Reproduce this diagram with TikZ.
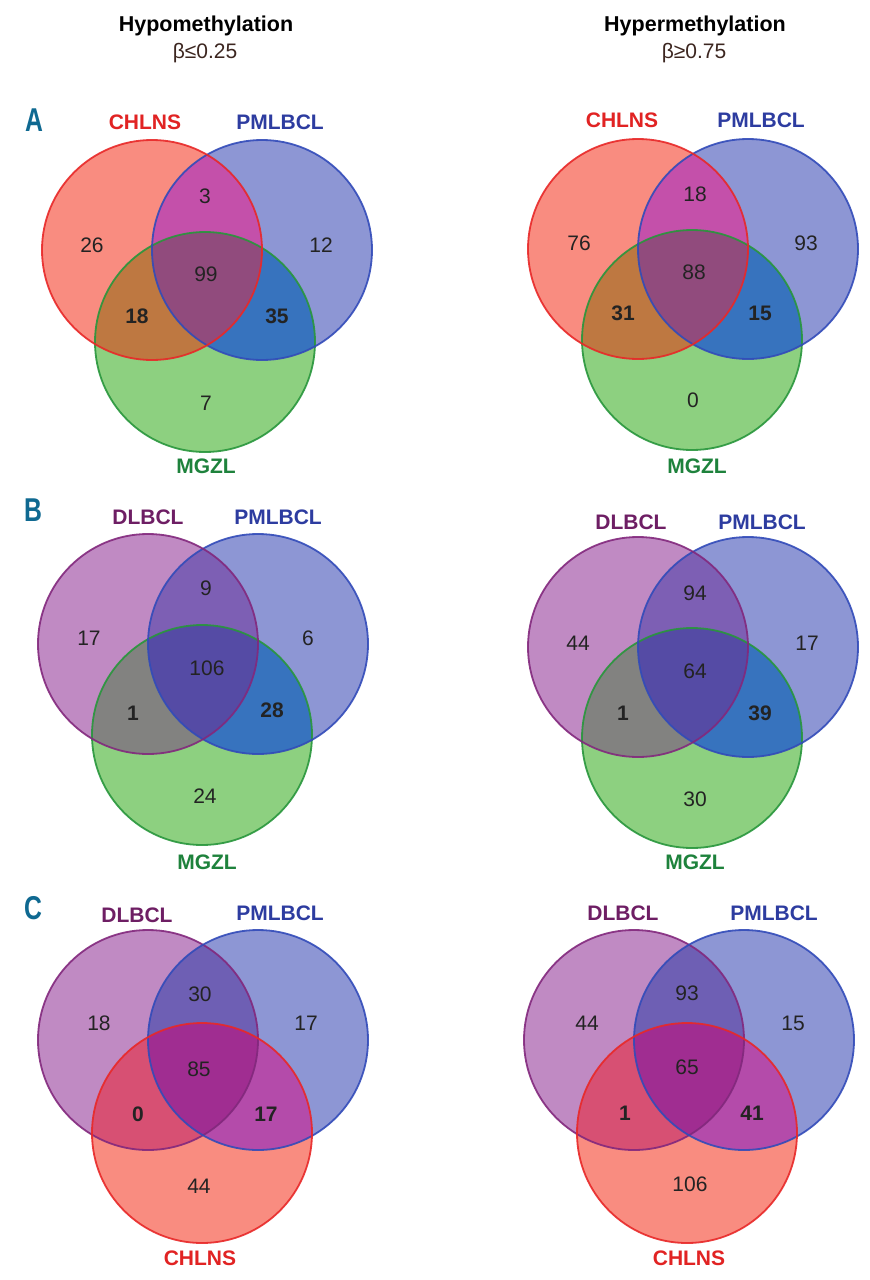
\documentclass[tikz,border=0pt]{standalone}
\usepackage{fontspec}
\setmainfont{Liberation Sans}
\newfontfamily\condfont[FakeStretch=0.75]{Liberation Sans}
\definecolor{fRed}{RGB}{249,140,128}
\definecolor{fBlue}{RGB}{141,150,212}
\definecolor{fGreen}{RGB}{141,208,128}
\definecolor{fPurp}{RGB}{192,138,195}
\definecolor{sRed}{RGB}{232,40,40}
\definecolor{sBlue}{RGB}{50,75,185}
\definecolor{sGreen}{RGB}{40,150,60}
\definecolor{sPurp}{RGB}{130,40,125}
\definecolor{lRed}{RGB}{225,35,35}
\definecolor{lBlue}{RGB}{45,60,160}
\definecolor{lGreen}{RGB}{30,130,60}
\definecolor{lPurp}{RGB}{110,30,100}
\definecolor{teal}{RGB}{15,105,145}
\definecolor{txt}{RGB}{35,35,35}
\definecolor{beta}{RGB}{60,38,32}
% region colours (set per panel)
\newcommand{\vennfill}[3]{%
  \fill[cL] (#1) circle[radius=110pt];
  \fill[cR] (#2) circle[radius=110pt];
  \fill[cB] (#3) circle[radius=110pt];
  \begin{scope}
    \clip (#2) circle[radius=110pt];
    \fill[cRB] (#3) circle[radius=110pt];
  \end{scope}
  \begin{scope}
    \clip (#1) circle[radius=110pt];
    \fill[cLR] (#2) circle[radius=110pt];
    \fill[cLB] (#3) circle[radius=110pt];
    \clip (#2) circle[radius=110pt];
    \fill[cLRB] (#3) circle[radius=110pt];
  \end{scope}}
\tikzset{
  ring/.style={circle, minimum size=220pt, inner sep=0pt, line width=1.8pt, draw opacity=0.9},
  num/.style={font=\fontsize{21}{25}\selectfont, text=txt, inner sep=0pt},
  bnum/.style={font=\bfseries\fontsize{21}{25}\selectfont, text=txt, inner sep=0pt},
  lab/.style={font=\bfseries\fontsize{21}{25}\selectfont, inner sep=0pt},
  letter/.style={font=\condfont\bfseries\fontsize{33}{36}\selectfont, text=teal, inner sep=0pt},
  head/.style={font=\bfseries\fontsize{21.5}{25}\selectfont, text=black, inner sep=0pt, anchor=base},
  sub/.style={font=\fontsize{21}{25}\selectfont, text=beta, inner sep=0pt, anchor=base}
}
\begin{document}
\begin{tikzpicture}[x=1pt,y=-1pt]
\useasboundingbox (0,0) rectangle (870,1280);
\fill[white] (0,0) rectangle (870,1280);

% headers
\node[head] (h1) at (206,31) {Hypomethylation};
\node[sub] (s1) at (205,58) {β≤0.25};
\node[head] (h2) at (695,31) {Hypermethylation};
\node[sub] (s2) at (694,58) {β≥0.75};

% panel letters
\node[letter] (LA) at (34,120) {A};
\node[letter] (LB) at (33,510) {B};
\node[letter] (LC) at (33,908) {C};

% ================= Panel A =================
\colorlet{cL}{fRed}\colorlet{cR}{fBlue}\colorlet{cB}{fGreen}
\definecolor{cLR}{RGB}{196,80,170}
\definecolor{cLB}{RGB}{190,120,65}
\definecolor{cRB}{RGB}{55,115,190}
\definecolor{cLRB}{RGB}{145,75,125}
% left
\coordinate (a1L) at (152,250);
\coordinate (a1R) at (262,250);
\coordinate (a1B) at (205,342);
\vennfill{a1L}{a1R}{a1B}
\node[ring, draw=sGreen] (A1G) at (a1B) {};
\node[ring, draw=sBlue] (A1P) at (a1R) {};
\node[ring, draw=sRed] (A1C) at (a1L) {};
\node[lab, text=lRed] (A1Ct) at (145,122) {CHLNS};
\node[lab, text=lBlue] (A1Pt) at (280,122) {PMLBCL};
\node[lab, text=lGreen] (A1Gt) at (206,466) {MGZL};
\node[num] at (92,245) {26};
\node[num] at (205,196) {3};
\node[num] at (321,245) {12};
\node[num] at (206,274) {99};
\node[bnum] at (137,316) {18};
\node[bnum] at (277,316) {35};
\node[num] at (206,403) {7};
% right
\coordinate (a2L) at (638,249);
\coordinate (a2R) at (748,249);
\coordinate (a2B) at (692,340);
\vennfill{a2L}{a2R}{a2B}
\node[ring, draw=sGreen] (A2G) at (a2B) {};
\node[ring, draw=sBlue] (A2P) at (a2R) {};
\node[ring, draw=sRed] (A2C) at (a2L) {};
\node[lab, text=lRed] (A2Ct) at (622,120) {CHLNS};
\node[lab, text=lBlue] (A2Pt) at (761,120) {PMLBCL};
\node[lab, text=lGreen] (A2Gt) at (697,466) {MGZL};
\node[num] at (579,243) {76};
\node[num] at (695,194) {18};
\node[num] at (806,243) {93};
\node[num] at (694,272) {88};
\node[bnum] at (623,313) {31};
\node[bnum] at (760,313) {15};
\node[num] at (693,400) {0};

% ================= Panel B =================
\colorlet{cL}{fPurp}\colorlet{cR}{fBlue}\colorlet{cB}{fGreen}
\definecolor{cLR}{RGB}{125,95,180}
\definecolor{cLB}{RGB}{130,130,128}
\definecolor{cRB}{RGB}{55,115,190}
\definecolor{cLRB}{RGB}{85,75,165}
% left
\coordinate (b1L) at (148,644);
\coordinate (b1R) at (258,644);
\coordinate (b1B) at (202,735);
\vennfill{b1L}{b1R}{b1B}
\node[ring, draw=sGreen] (B1G) at (b1B) {};
\node[ring, draw=sBlue] (B1P) at (b1R) {};
\node[ring, draw=sPurp] (B1D) at (b1L) {};
\node[lab, text=lPurp] (B1Dt) at (148,517) {DLBCL};
\node[lab, text=lBlue] (B1Pt) at (278,517) {PMLBCL};
\node[lab, text=lGreen] (B1Gt) at (207,862) {MGZL};
\node[num] at (89,638) {17};
\node[num] at (206,588) {9};
\node[num] at (308,638) {6};
\node[num] at (207,668) {106};
\node[bnum] at (133,713) {1};
\node[bnum] at (272,710) {28};
\node[num] at (205,796) {24};
% right
\coordinate (b2L) at (638,647);
\coordinate (b2R) at (748,647);
\coordinate (b2B) at (692,738);
\vennfill{b2L}{b2R}{b2B}
\node[ring, draw=sGreen] (B2G) at (b2B) {};
\node[ring, draw=sBlue] (B2P) at (b2R) {};
\node[ring, draw=sPurp] (B2D) at (b2L) {};
\node[lab, text=lPurp] (B2Dt) at (631,522) {DLBCL};
\node[lab, text=lBlue] (B2Pt) at (762,522) {PMLBCL};
\node[lab, text=lGreen] (B2Gt) at (695,862) {MGZL};
\node[num] at (578,643) {44};
\node[num] at (695,593) {94};
\node[num] at (807,643) {17};
\node[num] at (695,671) {64};
\node[bnum] at (623,713) {1};
\node[bnum] at (760,713) {39};
\node[num] at (695,799) {30};

% ================= Panel C =================
\colorlet{cL}{fPurp}\colorlet{cR}{fBlue}\colorlet{cB}{fRed}
\definecolor{cLR}{RGB}{110,95,180}
\definecolor{cLB}{RGB}{215,80,115}
\definecolor{cRB}{RGB}{180,75,170}
\definecolor{cLRB}{RGB}{160,45,145}
% left
\coordinate (c1L) at (148,1040);
\coordinate (c1R) at (258,1040);
\coordinate (c1B) at (202,1133);
\vennfill{c1L}{c1R}{c1B}
\node[ring, draw=sPurp] (C1D) at (c1L) {};
\node[ring, draw=sBlue] (C1P) at (c1R) {};
\node[ring, draw=sRed] (C1C) at (c1B) {};
\node[lab, text=lPurp] (C1Dt) at (137,915) {DLBCL};
\node[lab, text=lBlue] (C1Pt) at (280,913) {PMLBCL};
\node[lab, text=lRed] (C1Ct) at (200,1258) {CHLNS};
\node[num] at (99,1023) {18};
\node[num] at (200,994) {30};
\node[num] at (306,1023) {17};
\node[num] at (199,1069) {85};
\node[bnum] at (138,1114) {0};
\node[bnum] at (266,1114) {17};
\node[num] at (199,1186) {44};
% right
\coordinate (c2L) at (634,1040);
\coordinate (c2R) at (744,1040);
\coordinate (c2B) at (687,1133);
\vennfill{c2L}{c2R}{c2B}
\node[ring, draw=sPurp] (C2D) at (c2L) {};
\node[ring, draw=sBlue] (C2P) at (c2R) {};
\node[ring, draw=sRed] (C2C) at (c2B) {};
\node[lab, text=lPurp] (C2Dt) at (623,913) {DLBCL};
\node[lab, text=lBlue] (C2Pt) at (774,913) {PMLBCL};
\node[lab, text=lRed] (C2Ct) at (689,1258) {CHLNS};
\node[num] at (587,1023) {44};
\node[num] at (687,993) {93};
\node[num] at (793,1023) {15};
\node[num] at (687,1067) {65};
\node[bnum] at (625,1113) {1};
\node[bnum] at (752,1113) {41};
\node[num] at (690,1184) {106};
\end{tikzpicture}
\end{document}
